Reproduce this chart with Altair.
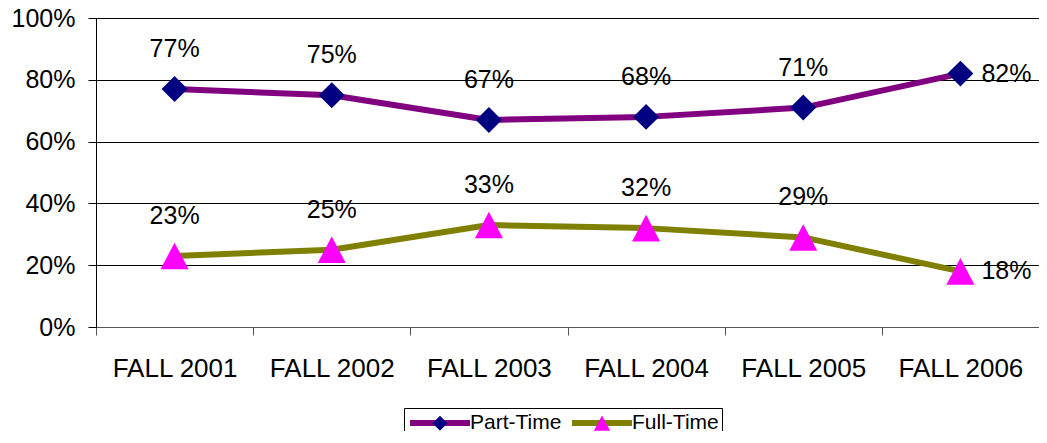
import altair as alt
import pandas as pd

categories = ["FALL 2001", "FALL 2002", "FALL 2003", "FALL 2004", "FALL 2005", "FALL 2006"]
part_time = [0.77, 0.75, 0.67, 0.68, 0.71, 0.82]
full_time = [0.23, 0.25, 0.33, 0.32, 0.29, 0.18]
series_names = ["Part-Time", "Full-Time"]

rows = []
for c, p, f in zip(categories, part_time, full_time):
    rows.append({"category": c, "series": series_names[0], "value": p})
    rows.append({"category": c, "series": series_names[1], "value": f})
df = pd.DataFrame(rows)

FONT = "Liberation Sans"
LINE_COLORS = ["#800080", "#808000"]
MARKER_COLORS = ["#000080", "#FF00FF"]
# symbol paths: an invisible (unfilled, unstroked) horizontal segment keeps legend layouts aligned
LINE_SYM = "M-3.333,0L3.333,0"
DIAMOND = "M-3.333,0L3.333,0M0,-0.833L0.833,0L0,0.833L-0.833,0Z"
TRIANGLE = "M-3.333,0L3.333,0M0,-0.85L0.9,0.85L-0.9,0.85Z"

x = alt.X(
    "category:N",
    sort=categories,
    scale=alt.Scale(type="band", paddingInner=0, paddingOuter=0),
    axis=alt.Axis(
        title=None, labelAngle=0, tickBand="extent", tickSize=8, labelPadding=20,
        labelFont=FONT, labelFontSize=26, labelColor="black",
        domainColor="#555555", tickColor="#555555", grid=False,
    ),
)
y = alt.Y(
    "value:Q",
    scale=alt.Scale(domain=[0, 1], nice=False),
    axis=alt.Axis(
        title=None, format=".0%", values=[0, 0.2, 0.4, 0.6, 0.8, 1.0],
        tickSize=8, labelPadding=13, labelFont=FONT, labelFontSize=25,
        labelColor="black", domainColor="black", tickColor="black",
        gridColor="black", gridWidth=1,
    ),
)

base = alt.Chart(df)

LEG_X = 308
LEG_Y = 390
LABEL_OFFSET = 18
COL_PAD = -2

# line legend: data-derived domain ("Part-Time" > "Full-Time" when descending)
lines = base.mark_line(strokeWidth=6, strokeJoin="round", strokeCap="round").encode(
    x=x,
    y=y,
    color=alt.Color(
        "series:N",
        sort="descending",
        scale=alt.Scale(range=LINE_COLORS),
        legend=alt.Legend(
            orient="none", legendX=LEG_X, legendY=LEG_Y, direction="horizontal", columns=2,
            title=" ", titleOrient="bottom", titleFontSize=20,
            symbolType=LINE_SYM, symbolSize=324, symbolStrokeWidth=6, symbolOffset=21,
            labelFont=FONT, labelFontSize=21, labelColor="black", labelOffset=LABEL_OFFSET,
            columnPadding=COL_PAD, padding=3, strokeColor="black", zindex=0,
        ),
    ),
)

marker_legend = alt.Legend(
    orient="none", legendX=LEG_X, legendY=LEG_Y, direction="horizontal", columns=2,
    title=None, symbolSize=324, symbolStrokeWidth=6, symbolStrokeColor="transparent",
    symbolOffset=21, symbolOpacity=1, labelFont=FONT, labelFontSize=21, labelOpacity=0,
    labelOffset=LABEL_OFFSET, columnPadding=COL_PAD, padding=3, zindex=1,
)

# marker legend: explicit domain, so it stays separate from the line legend
points = base.mark_point(filled=True, size=973, opacity=1, strokeWidth=0).encode(
    x=x,
    y=y,
    fill=alt.Fill("series:N", scale=alt.Scale(domain=series_names, range=MARKER_COLORS), legend=marker_legend),
    shape=alt.Shape("series:N", scale=alt.Scale(domain=series_names, range=[DIAMOND, TRIANGLE]), legend=marker_legend),
)

labels = base.transform_filter(alt.datum.category != categories[-1]).mark_text(
    dy=-40, fontSize=25, font=FONT, color="black", baseline="middle"
).encode(x=x, y=y, text=alt.Text("value:Q", format=".0%"))

last_labels = base.transform_filter(alt.datum.category == categories[-1]).mark_text(
    dx=21, align="left", fontSize=25, font=FONT, color="black", baseline="middle"
).encode(x=x, y=y, text=alt.Text("value:Q", format=".0%"))

chart = alt.layer(lines, points, labels, last_labels).properties(
    width=943,
    height=309,
    autosize=alt.AutoSizeParams(type="none"),
    padding={"left": 88, "top": 10, "right": 0, "bottom": 104},
).configure_view(strokeWidth=0).configure(font=FONT)

chart.save("out.html", embed_options={"renderer": "svg", "actions": False})
